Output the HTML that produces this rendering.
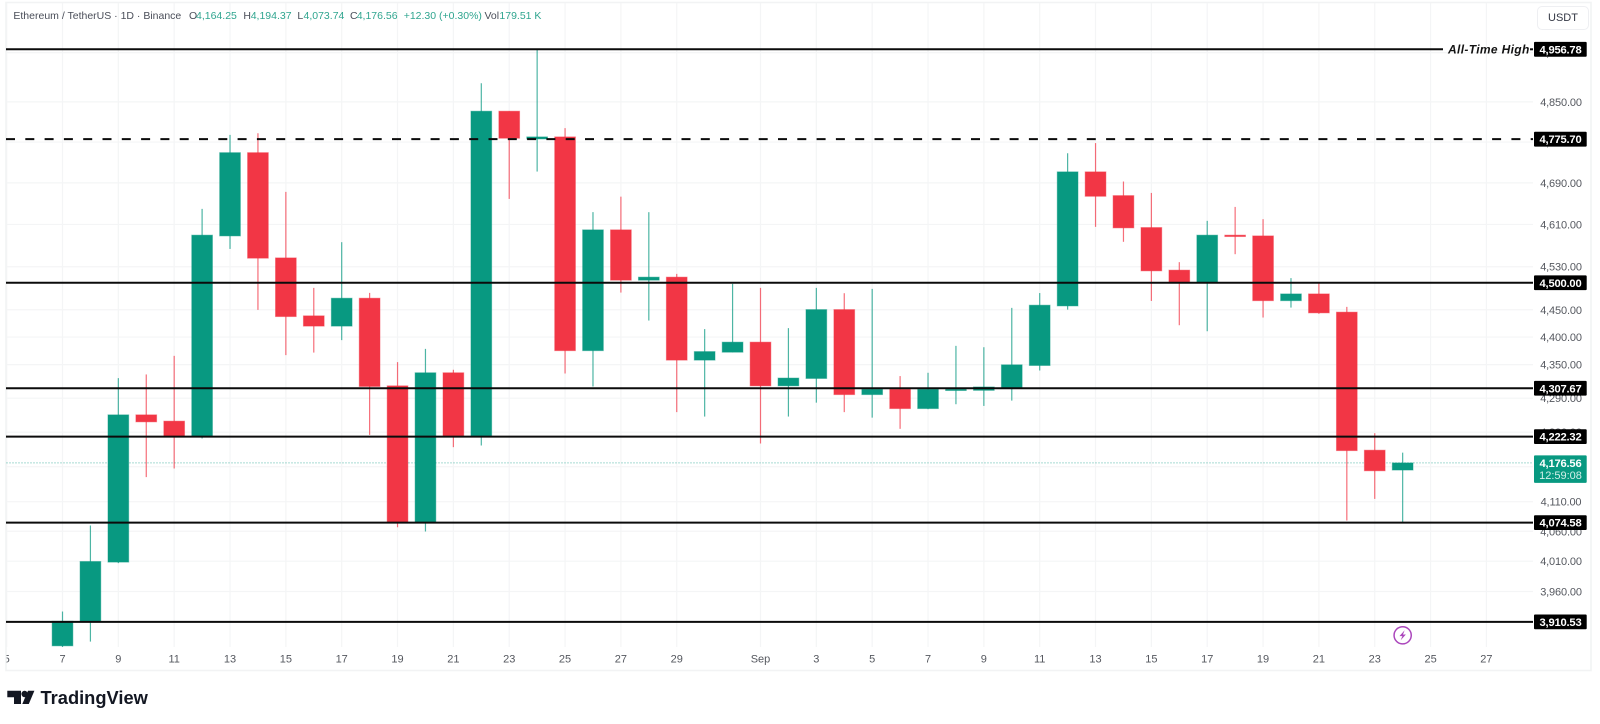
<!DOCTYPE html>
<html lang="en">
<head>
<meta charset="utf-8">
<title>Ethereum / TetherUS 1D chart</title>
<style>
html,body{margin:0;padding:0;background:#fff;}
#stage{position:relative;width:1600px;height:724px;overflow:hidden;background:#fff;font-family:"Liberation Sans",sans-serif;}
#chart{position:absolute;left:0;top:0;}
.lg{position:absolute;top:9px;font-size:10.5px;line-height:14px;white-space:nowrap;color:#4a4e59;}
.lv{color:#2fa58f;}
#usdt{position:absolute;left:1537px;top:6px;width:50px;height:22px;border:1px solid #eeeff2;border-radius:5px;font-size:11px;line-height:22px;text-align:center;color:#333744;background:#fff;}
#tv-word{position:absolute;left:40.5px;top:686px;font-size:18.3px;line-height:24px;font-weight:bold;color:#131722;}
</style>
</head>
<body>
<div id="stage">
  <svg id="chart" width="1600" height="724" viewBox="0 0 1600 724" xmlns="http://www.w3.org/2000/svg"></svg>

  <div>
    <span class="lg" style="left:13.4px">Ethereum / TetherUS · 1D · Binance</span>
    <span class="lg" style="left:189px">O</span>
    <span class="lg lv" style="left:196px">4,164.25</span>
    <span class="lg" style="left:243.4px">H</span>
    <span class="lg lv" style="left:250.7px">4,194.37</span>
    <span class="lg" style="left:297.4px">L</span>
    <span class="lg lv" style="left:303.5px">4,073.74</span>
    <span class="lg" style="left:350px">C</span>
    <span class="lg lv" style="left:356.7px">4,176.56</span>
    <span class="lg lv" style="left:403.7px">+12.30 (+0.30%)</span>
    <span class="lg" style="left:484.5px">Vol</span>
    <span class="lg lv" style="left:499.4px">179.51 K</span>
  </div>

  <div id="usdt">USDT</div>

  <svg style="position:absolute;left:0;top:680px" width="40" height="30">
    <path d="M7.3 10.7H21V24H14V17.2H7.3Z" fill="#131722"/>
    <circle cx="24.6" cy="14" r="3.2" fill="#131722"/>
    <path d="M28 10.7H34.4L28.8 24H22.3Z" fill="#131722"/>
  </svg>
  <div id="tv-word">TradingView</div>
</div>

<script>
// Daily candles, first value is 7 Aug
const opens = [3871.9,3911.2,4008.5,4260.5,4249.4,4223.0,4588.2,4749.1,4546.6,4438.8,4420.0,4471.3,4312.0,4075.4,4335.4,4223.5,4831.3,4776.2,4780.2,4375.3,4599.7,4504.9,4510.5,4358.2,4372.5,4390.7,4312.0,4325.2,4450.3,4296.4,4305.8,4271.6,4304.0,4304.0,4308.0,4348.5,4457.1,4711.5,4665.4,4604.1,4523.6,4499.8,4589.6,4588.2,4466.8,4479.3,4445.6,4198.6,4164.25];
const highs = [3927.3,4069.7,4325.9,4332.4,4365.9,4639.8,4784.2,4787.5,4672.6,4490.5,4576.3,4481.2,4354.6,4378.4,4340.8,4887.7,4831.3,4956.8,4797.5,4633.5,4663.4,4633.5,4516.7,4414.5,4498.0,4490.5,4416.3,4490.5,4480.6,4488.7,4329.5,4335.4,4384.0,4381.5,4453.5,4480.9,4747.9,4768.0,4692.7,4670.6,4538.6,4616.9,4643.6,4620.1,4508.7,4499.3,4455.3,4228.3,4194.37];
const lows = [3870.0,3878.7,4006.9,4152.1,4166.9,4219.0,4563.5,4449.8,4367.1,4371.8,4394.4,4225.3,4066.7,4059.6,4203.9,4206.7,4659.0,4712.1,4334.2,4310.9,4481.8,4430.2,4265.3,4257.5,4372.5,4210.2,4257.5,4282.1,4265.3,4255.7,4235.9,4270.5,4279.3,4276.3,4285.7,4339.5,4450.3,4605.4,4577.0,4466.3,4421.6,4410.6,4553.6,4435.7,4454.0,4442.5,4078.1,4114.8,4073.74];
const closes = [3911.5,4009.5,4260.5,4248.2,4223.0,4589.6,4749.1,4546.1,4437.5,4420.0,4471.3,4310.9,4075.4,4335.4,4223.5,4831.3,4777.6,4780.2,4375.3,4599.7,4504.9,4510.5,4358.2,4373.6,4390.7,4312.0,4325.9,4450.3,4296.4,4305.8,4271.6,4305.8,4305.8,4310.0,4349.7,4458.4,4711.5,4664.1,4603.5,4522.3,4499.8,4589.6,4587.0,4466.8,4479.3,4444.3,4197.9,4163.0,4176.56];

// Axis ticks
const priceTicks = [4950,4850,4770,4690,4610,4530,4450,4400,4350,4290,4230,4170,4110,4060,4010,3960,3910];
const timeTickDays = [-2,0,2,4,6,8,10,12,14,16,18,20,22,25,27,29,31,33,35,37,39,41,43,45,47,49,51];
const timeTickLabels = ['5','7','9','11','13','15','17','19','21','23','25','27','29','Sep','3','5','7','9','11','13','15','17','19','21','23','25','27'];

// Horizontal level drawings
const levelPrices = [4956.78,4775.70,4500.00,4307.67,4222.32,4074.58,3910.53];
const levelLabels = ['4,956.78','4,775.70','4,500.00','4,307.67','4,222.32','4,074.58','3,910.53'];
const levelNames = ['all-time-high','dashed-resistance','resistance-4500','level-4307','level-4222','support-4074','support-3910'];

const currentPrice = 4176.56;
const currentPriceLabel = '4,176.56';
const countdownLabel = '12:59:08';
const eventDay = 48;

// Axis functions
const PANE_LEFT = 6.5, PANE_RIGHT = 1533, PANE_BOTTOM = 647;
function xDay(i){ return 62.5 + 27.92 * i; }
function yPrice(p){ return 49.3 + 2415 * Math.log(4956.78 / p); }
function fmtPrice(p){ return p.toFixed(2).replace(/\B(?=(\d{3})+(?!\d))/g, ','); }

const NS = 'http://www.w3.org/2000/svg';
const svg = document.getElementById('chart');
function mk(tag, attrs, parent){
  const e = document.createElementNS(NS, tag);
  for (const k in attrs) e.setAttribute(k, attrs[k]);
  (parent || svg).appendChild(e);
  return e;
}
const defs = mk('defs', {});
const clip = mk('clipPath', {id:'pane-clip'}, defs);
mk('rect', {x:PANE_LEFT, y:3, width:PANE_RIGHT-PANE_LEFT, height:670}, clip);

// Frame
const frame = mk('rect', {x:6, y:2.5, width:1585, height:668, fill:'none', stroke:'#f2f3f4', 'stroke-width':1.6});



// Grid
const gridLayer = mk('g', {'clip-path':'url(#pane-clip)'});


priceTicks.forEach(function(p){
  const y = yPrice(p);
  const g = mk('line', {x1:PANE_LEFT, x2:PANE_RIGHT, y1:y, y2:y, stroke:'#f4f5f6', 'stroke-width':1.2}, gridLayer);
  
  
});
timeTickDays.forEach(function(d){
  const x = xDay(d);
  const g = mk('line', {x1:x, x2:x, y1:3, y2:PANE_BOTTOM, stroke:'#f4f5f6', 'stroke-width':1.2}, gridLayer);
  
  
});

// Price axis tick labels
const priceAxis = mk('g', {});


priceTicks.forEach(function(p){
  const t = mk('text', {x:1561, y:yPrice(p)+4, 'text-anchor':'middle', 'font-size':11, 'letter-spacing':-0.15, fill:'#55585f', 'font-family':'"Liberation Sans",sans-serif'}, priceAxis);
  t.textContent = fmtPrice(p);
  
  
});

// Time axis labels
const timeAxis = mk('g', {'clip-path':'url(#pane-clip)'});


timeTickDays.forEach(function(d, i){
  const t = mk('text', {x:xDay(d), y:662.5, 'text-anchor':'middle', 'font-size':11, fill:'#55585f', 'font-family':'"Liberation Sans",sans-serif'}, timeAxis);
  t.textContent = timeTickLabels[i];
  
  
});

// Current price dotted line
const cy = yPrice(currentPrice);
const dotted = mk('line', {x1:PANE_LEFT, x2:PANE_RIGHT, y1:cy, y2:cy, stroke:'#089981', 'stroke-width':1, 'stroke-dasharray':'1 2', 'stroke-opacity':0.7});



// Candles
const BODY_W = 21.7;
const candleLayer = mk('g', {'clip-path':'url(#pane-clip)'});


opens.forEach(function(o, i){
  const c = closes[i], up = c >= o, col = up ? '#089981' : '#f23645';
  const x = xDay(i);
  const group = mk('g', {}, candleLayer);
  
  
  const wick = mk('line', {x1:x, x2:x, y1:yPrice(highs[i]), y2:yPrice(lows[i]), stroke:col, 'stroke-width':1.2, 'stroke-opacity':0.72}, group);
  
  
  const top = yPrice(Math.max(o, c)), bot = yPrice(Math.min(o, c));
  const body = mk('rect', {x:x-BODY_W/2+0.5, y:top, width:BODY_W-1, height:Math.max(bot-top, 1.2), fill:col, stroke:col, 'stroke-width':1, 'stroke-opacity':0.45}, group);
  
  
});

// Level lines and price tags
levelPrices.forEach(function(p, i){
  const y = yPrice(p);
  const isAth = i === 0, dashed = i === 1;
  const ln = mk('line', {x1:6, x2:isAth ? 1443 : PANE_RIGHT, y1:y, y2:y, stroke:'#0b0b0b', 'stroke-width':2});
  if (dashed) ln.setAttribute('stroke-dasharray', '9 10.3');
  
  
  if (isAth) {
    const stub = mk('line', {x1:1530, x2:PANE_RIGHT, y1:y, y2:y, stroke:'#0b0b0b', 'stroke-width':2});
    
    
    const lb = mk('text', {x:1448, y:y+4.3, 'font-size':12, 'font-weight':'bold', 'font-style':'italic', 'letter-spacing':0.35, fill:'#131313', 'font-family':'"Liberation Sans",sans-serif'});
    lb.textContent = 'All-Time High';
    
    
  }
  const tag = mk('rect', {x:1534, y:y-7.4, width:52.7, height:14.8, fill:'#000', rx:1});
  
  
  const tx = mk('text', {x:1560.5, y:y+4, 'text-anchor':'middle', 'font-size':11.2, 'font-weight':'bold', 'letter-spacing':-0.2, fill:'#fff', 'font-family':'"Liberation Sans",sans-serif'});
  tx.textContent = levelLabels[i];
  
  
});

// Current price tag
const curTag = mk('rect', {x:1534, y:cy-7.5, width:52.7, height:27.5, fill:'#089981', rx:1});


const curText = mk('text', {x:1560.5, y:cy+4, 'text-anchor':'middle', 'font-size':11.2, 'font-weight':'bold', 'letter-spacing':-0.2, fill:'#fff', 'font-family':'"Liberation Sans",sans-serif'});
curText.textContent = currentPriceLabel;


const cdText = mk('text', {x:1560.5, y:cy+16.3, 'text-anchor':'middle', 'font-size':11, fill:'#d3efe9', 'font-family':'"Liberation Sans",sans-serif'});
cdText.textContent = countdownLabel;



// Event marker
const ex = xDay(eventDay), ey = 635.3;
const evt = mk('g', {});


mk('circle', {cx:ex, cy:ey, r:8.6, fill:'#fff', stroke:'#ab47bc', 'stroke-width':1.5}, evt);
mk('path', {d:'M'+(ex+2)+' '+(ey-5)+'L'+(ex-3.2)+' '+(ey+0.8)+'H'+(ex-0.3)+'L'+(ex-2)+' '+(ey+5)+'L'+(ex+3.2)+' '+(ey-0.8)+'H'+(ex+0.3)+'Z', fill:'#ab47bc'}, evt);
</script>
</body>
</html>
